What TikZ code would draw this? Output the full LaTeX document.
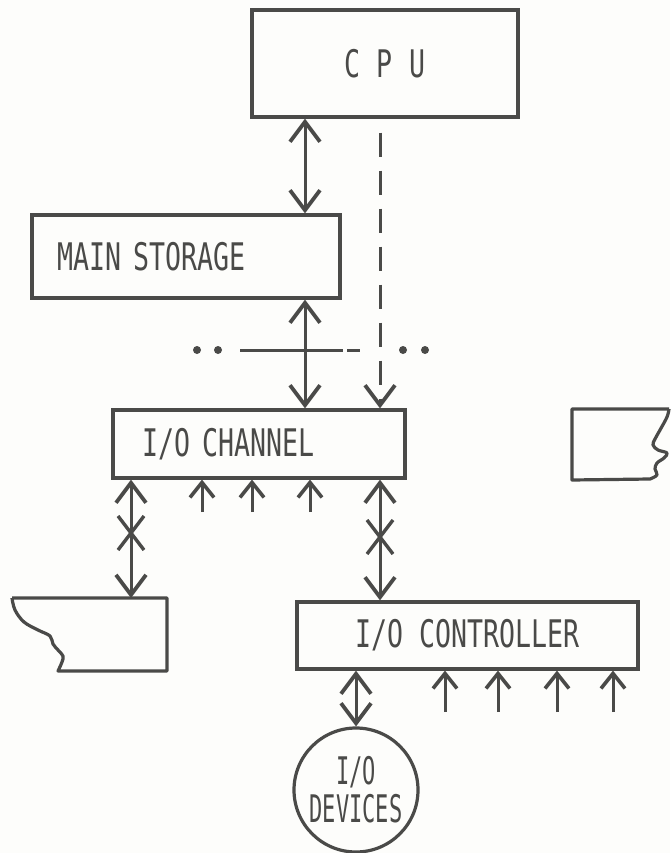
\documentclass[tikz,border=0pt]{standalone}
\usepackage{fontspec}
\setmainfont{DejaVu Sans Mono}[FakeStretch=0.7]
\newfontfamily\devfont{DejaVu Sans Mono}[FakeStretch=0.58]
\usepackage{tikz}
\usetikzlibrary{calc, arrows.meta}
\definecolor{inkGray}{HTML}{4A4A48}
\definecolor{paperBg}{HTML}{FDFDFB}
\tikzset{
  unitbox/.style={draw=inkGray, line width=3.2pt, text=inkGray, inner sep=0pt,
                  font=\fontsize{38}{40}\selectfont},
  busline/.style={draw=inkGray, line width=3pt,
                  {Straight Barb[length=20pt,width=30pt,line width=3.8pt]}-{Straight Barb[length=20pt,width=30pt,line width=3.8pt]}},
  feedline/.style={draw=inkGray, line width=3pt, -{Straight Barb[length=15pt,width=24pt,line width=3.6pt]}},
  ctlline/.style={draw=inkGray, line width=3pt, dash pattern=on 24pt off 14pt,
                  shorten <=14pt, -{Straight Barb[length=20pt,width=30pt,line width=3.8pt]}},
  xmark/.style={draw=inkGray, line width=3.4pt},
  tornbox/.style={draw=inkGray, line width=3.2pt, line join=round}
}

\begin{document}
\begin{tikzpicture}[x=1pt, y=-1pt]
  \fill[paperBg] (0,0) rectangle (670,853);
  \useasboundingbox (0,0) rectangle (670,853);

  % units
  \node[unitbox, minimum width=266pt, minimum height=107pt] (cpu) at (385,63.5) {C P U};
  \node[unitbox, minimum width=308pt, minimum height=83pt, inner xsep=25pt,
        text width=258pt, align=left] (mem) at (186,256.5) {MAIN STORAGE};
  \node[unitbox, minimum width=292pt, minimum height=68pt, inner xsep=29pt,
        text width=234pt, align=left] (chan) at (259,444) {I/O CHANNEL};
  \node[unitbox, minimum width=341pt, minimum height=67pt] (ctrl) at (467.5,635.5) {I/O CONTROLLER};
  \node[unitbox, circle, minimum size=124pt, align=center, font=\devfont\fontsize{38}{38}\selectfont]
        (dev) at (356,790) {I/O\\DEVICES};

  % partial boxes at the sides
  \draw[tornbox] (12,598) -- (167,598) -- (167,671) -- (58,671)
    -- plot[smooth, tension=0.6] coordinates {(58,671) (62,662) (63,656) (58,650) (53,644)
       (50,636) (38,630) (24,622) (15,610) (12,598)};
  \draw[tornbox] (669,409) -- (572,409) -- (572,480) -- (650,479)
    -- plot[smooth, tension=0.6] coordinates {(650,479) (657,475) (655,469) (657,463)
       (664,458) (667,453) (658,450) (653,445) (655,439) (660,430) (667,417) (669,409)};
  \coordinate (tornL) at (131,598);

  % data paths
  \coordinate (mx) at (305,0);
  \coordinate (dx) at (380,0);
  \draw[busline] (cpu.south -| mx) -- (mem.north -| mx);
  \draw[busline] (mem.south -| mx) -- (chan.north -| mx);
  \draw[ctlline] (cpu.south -| dx) -- (chan.north -| dx);
  \draw[busline] (chan.south -| tornL) -- (tornL);
  \draw[busline] (chan.south -| dx) -- (ctrl.north -| dx);
  \draw[busline] (ctrl.south -| dev) -- (dev.north);

  \draw[xmark] (131,533) +(-13,-17) -- +(13,17) +(-13,17) -- +(13,-17);
  \draw[xmark] (380,537) +(-13,-17) -- +(13,17) +(-13,17) -- +(13,-17);

  \foreach \fx in {202,252,310} {
    \coordinate (cf\fx) at (\fx,512);
    \draw[feedline] (cf\fx) -- (chan.south -| cf\fx);
  }
  \foreach \fx in {445,498,557,613} {
    \coordinate (kf\fx) at (\fx,712);
    \draw[feedline] (kf\fx) -- (ctrl.south -| kf\fx);
  }

  % interface boundary
  \foreach \dx in {197,218,403,425}
    \fill[inkGray] (\dx,350) circle (4pt);
  \draw[inkGray, line width=3pt] (240,350) -- (343,350);
  \draw[inkGray, line width=3pt] (347,350) -- (360,350);
\end{tikzpicture}
\end{document}
